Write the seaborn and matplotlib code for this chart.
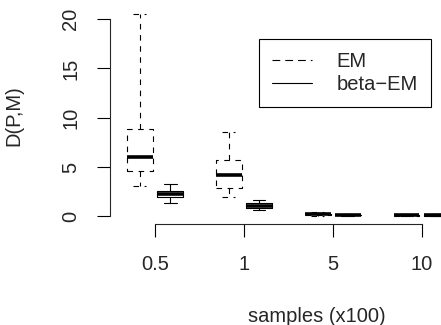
import numpy as np
import pandas as pd
import matplotlib.pyplot as plt
import seaborn as sns
from matplotlib.lines import Line2D

sns.set_style("ticks")
plt.rcParams["font.family"] = ["Liberation Sans", "DejaVu Sans"]

# Categories
sample_sizes = ["0.5", "1", "5", "10"]
methods = ["EM", "beta\u2212EM"]

# Five-number summaries per box (min, q1, median, q3, max)
em_05 = [3.05, 4.55, 6.0, 8.9, 20.5]
em_1 = [2.0, 2.9, 4.2, 5.75, 8.55]
em_5 = [0.08, 0.15, 0.2, 0.28, 0.42]
em_10 = [0.04, 0.08, 0.12, 0.16, 0.25]
beta_05 = [1.35, 1.95, 2.25, 2.55, 3.3]
beta_1 = [0.6, 0.85, 1.05, 1.35, 1.7]
beta_5 = [0.05, 0.1, 0.14, 0.18, 0.25]
beta_10 = [0.04, 0.08, 0.12, 0.16, 0.22]

em_values = [em_05, em_1, em_5, em_10]
beta_values = [beta_05, beta_1, beta_5, beta_10]

rows = []
for s, vals in zip(sample_sizes, em_values):
    rows += [{"samples": s, "method": methods[0], "D": v} for v in vals]
for s, vals in zip(sample_sizes, beta_values):
    rows += [{"samples": s, "method": methods[1], "D": v} for v in vals]
df = pd.DataFrame(rows)

fig = plt.figure(figsize=(4.41, 3.25), dpi=100)
ax = fig.add_axes([110 / 441, (325 - 223.5) / 325, 331 / 441, 216.5 / 325])

sns.boxplot(data=df, x="samples", y="D", hue="method", hue_order=methods, order=sample_sizes,
            palette={m: "black" for m in methods}, width=0.68, gap=0.15,
            whis=(0, 100), fill=False, legend=False, linewidth=0.8,
            medianprops=dict(linewidth=2.6), ax=ax)

# EM boxes sit left of each category centre: dash their outline, whiskers and caps
dash = (0, (5, 5))
for line in ax.lines:
    xs = np.asarray(line.get_xdata(), dtype=float)
    if xs.size == 0:
        continue
    xm = xs.mean()
    if xm - np.round(xm) < 0 and line.get_linewidth() < 2:
        line.set_linestyle(dash)

ax.set_xlim(-0.506, 3.217)
ax.set_ylim(-0.72, 21.22)
ax.set_yticks([0, 5, 10, 15, 20])
sns.despine(ax=ax)
ax.spines["left"].set_bounds(0, 20)
ax.spines["bottom"].set_bounds(0, 3)
for sp in ["left", "bottom"]:
    ax.spines[sp].set_linewidth(0.8)
ax.tick_params(axis="both", length=9.4, width=0.8, labelsize=14.5, color="black")
ax.tick_params(axis="x", pad=13)
ax.tick_params(axis="y", pad=12)
for lab in ax.get_yticklabels():
    lab.set_rotation(90)
    lab.set_va("center")

ax.set_xlabel("samples (x100)", fontsize=14.5)
ax.xaxis.set_label_coords(0.625, -0.43)
ax.xaxis.label.set_va("center")
ax.set_ylabel("D(P,M)", fontsize=14.5)
ax.yaxis.set_label_coords(-0.29, 0.5)
ax.yaxis.label.set_va("center")

handles = [Line2D([], [], color="black", lw=0.8, linestyle=(0, (7, 4.5))),
           Line2D([], [], color="black", lw=0.8, linestyle="-")]
leg = fig.legend(handles, methods, loc="upper left", bbox_to_anchor=(259 / 441, (325 - 39) / 325),
                 bbox_transform=fig.transFigure, borderaxespad=0, fontsize=14.5,
                 frameon=True, fancybox=False, framealpha=1, edgecolor="black",
                 handlelength=2.0, handletextpad=1.2, borderpad=0.65, labelspacing=0.2)
leg.get_frame().set_linewidth(0.8)

fig.savefig("out.png", dpi=100)
